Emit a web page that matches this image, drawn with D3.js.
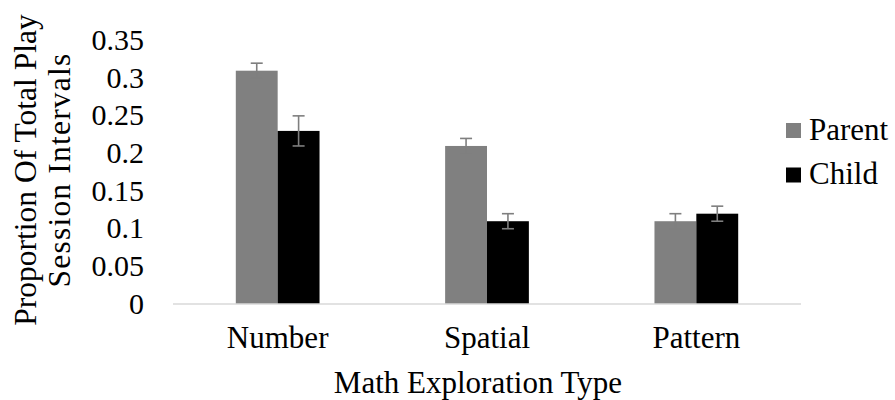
<!DOCTYPE html>
<html>
<head>
<meta charset="utf-8">
<script src="https://cdn.jsdelivr.net/npm/d3@7"></script>
<style>
  html, body { margin: 0; padding: 0; background: #fff; }
  svg { display: block; }
</style>
</head>
<body>
<svg id="chart" width="895" height="400"></svg>
<script>
// Proportion of play-session intervals by math exploration type
const categories = ["Number", "Spatial", "Pattern"];
const seriesNames = ["Parent", "Child"];
const parentValues = [0.31, 0.21, 0.11];
const childValues = [0.23, 0.11, 0.12];
const parentErrors = [0.01, 0.01, 0.01];
const childErrors = [0.02, 0.01, 0.01];
const yTicks = [0, 0.05, 0.1, 0.15, 0.2, 0.25, 0.3, 0.35];
const seriesColors = ["#808080", "#000000"];

const FONT = '"Liberation Serif", "Times New Roman", serif';

const svg = d3.select("#chart");
const plot = { left: 173, right: 801, top: 40.6, bottom: 304 };

const x0 = d3.scaleBand()
  .domain(categories)
  .range([plot.left, plot.right])
  .paddingInner(0.6)
  .paddingOuter(0.3);
const x1 = d3.scaleBand()
  .domain(seriesNames)
  .range([0, x0.bandwidth()])
  .padding(0);
const y = d3.scaleLinear()
  .domain([0, 0.35])
  .range([plot.bottom, plot.top]);

const rows = categories.map((c, i) => ({
  category: c,
  bars: [
    { series: "Parent", value: parentValues[i], err: parentErrors[i] },
    { series: "Child", value: childValues[i], err: childErrors[i] }
  ]
}));
const color = d3.scaleOrdinal().domain(seriesNames).range(seriesColors);

function styleText(sel, size) {
  sel.style("font-family", FONT)
    .style("font-size", size + "px")
    .style("fill", "#000");
}

// Value axis labels (no axis line, no ticks)
const yAxis = d3.axisLeft(y)
  .tickValues(yTicks)
  .tickSize(0)
  .tickPadding(0)
  .tickFormat(d => d === 0 ? "0" : String(+d.toFixed(2)));
const yG = svg.append("g")
  .attr("transform", `translate(144,0)`)
  .call(yAxis);
yG.select(".domain").remove();
yG.selectAll("text").attr("dy", "0.3em").call(styleText, 30);

// Bars
const groups = svg.append("g").selectAll("g")
  .data(rows).join("g")
  .attr("transform", d => `translate(${x0(d.category)},0)`);

groups.selectAll("rect")
  .data(d => d.bars).join("rect")
  .attr("x", d => x1(d.series))
  .attr("y", d => y(d.value))
  .attr("width", x1.bandwidth())
  .attr("height", d => y(0) - y(d.value))
  .attr("fill", d => color(d.series));

// Error bars
const capHalf = 6;
const cx = d => x1(d.series) + x1.bandwidth() / 2;
const eb = groups.selectAll("g.err")
  .data(d => d.bars).join("g")
  .attr("class", "err")
  .attr("stroke", "#7f7f7f")
  .attr("stroke-width", 1.6)
  .attr("fill", "none");
eb.append("line")
  .attr("x1", cx).attr("x2", cx)
  .attr("y1", d => y(d.value + d.err))
  .attr("y2", d => y(d.value - d.err));
eb.append("line")
  .attr("x1", d => cx(d) - capHalf).attr("x2", d => cx(d) + capHalf)
  .attr("y1", d => y(d.value + d.err)).attr("y2", d => y(d.value + d.err));
eb.append("line")
  .attr("x1", d => cx(d) - capHalf).attr("x2", d => cx(d) + capHalf)
  .attr("y1", d => y(d.value - d.err)).attr("y2", d => y(d.value - d.err));

// Category axis
const xAxis = d3.axisBottom(x0).tickSize(0).tickPadding(0);
const xG = svg.append("g")
  .attr("transform", `translate(0,${plot.bottom})`)
  .call(xAxis);
xG.select(".domain")
  .attr("stroke", "#d9d9d9")
  .attr("stroke-width", 1.5)
  .attr("d", `M${plot.left},0H${plot.right}`);
xG.selectAll("text")
  .attr("dy", null)
  .attr("y", 44)
  .call(styleText, 31);

// Axis titles
svg.append("text")
  .attr("x", 478)
  .attr("y", 393)
  .attr("text-anchor", "middle")
  .call(styleText, 31)
  .text("Math Exploration Type");

const yTitle = svg.append("text")
  .attr("transform", "translate(36,170) rotate(-90)")
  .attr("text-anchor", "middle")
  .call(styleText, 31.5);
yTitle.append("tspan").attr("x", 0).attr("y", 0).text("Proportion Of Total Play");
yTitle.append("tspan").attr("x", 0).attr("y", 34)
  .style("letter-spacing", "1.2px")
  .text("Session Intervals");

// Legend
const legend = svg.append("g").selectAll("g")
  .data(seriesNames).join("g")
  .attr("transform", (d, i) => `translate(786,${123 + i * 44.5})`);
legend.append("rect")
  .attr("width", 15)
  .attr("height", 15)
  .attr("fill", d => color(d));
legend.append("text")
  .attr("x", 23)
  .attr("y", 16.5)
  .call(styleText, 31)
  .text(d => d);
</script>
</body>
</html>
